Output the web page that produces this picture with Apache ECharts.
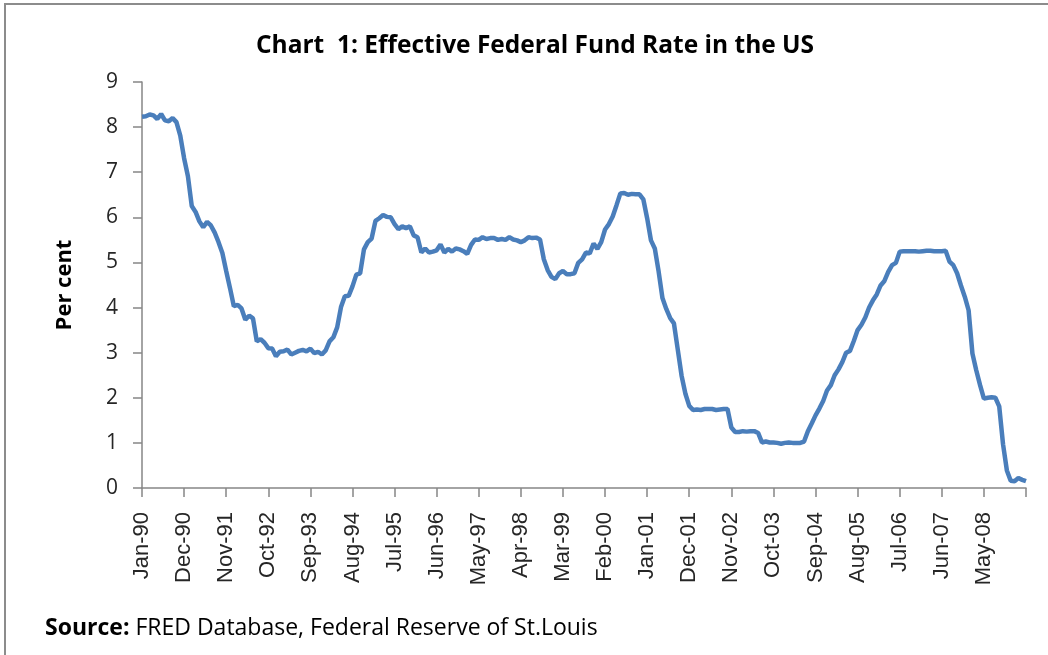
<!DOCTYPE html>
<html>
<head>
<meta charset="utf-8">
<title>Effective Federal Fund Rate in the US</title>
<script src="https://cdn.jsdelivr.net/npm/echarts@6/dist/echarts.min.js"></script>
<style>
    html, body { margin: 0; padding: 0; background: #fff; }
    #chart { width: 1048px; height: 655px; }
</style>
</head>
<body>
<div id="chart"></div>
<script>
// monthly effective federal funds rate, per cent, Jan-90 .. Apr-09
var rate1990 = [8.23, 8.24, 8.28, 8.26, 8.18, 8.29, 8.15, 8.13, 8.20, 8.11, 7.81, 7.31];
var rate1991 = [6.91, 6.25, 6.12, 5.91, 5.78, 5.90, 5.82, 5.66, 5.45, 5.21, 4.81, 4.43];
var rate1992 = [4.03, 4.06, 3.98, 3.73, 3.82, 3.76, 3.25, 3.30, 3.22, 3.10, 3.09, 2.92];
var rate1993 = [3.02, 3.03, 3.07, 2.96, 3.00, 3.04, 3.06, 3.03, 3.09, 2.99, 3.02, 2.96];
var rate1994 = [3.05, 3.25, 3.34, 3.56, 4.01, 4.25, 4.26, 4.47, 4.73, 4.76, 5.29, 5.45];
var rate1995 = [5.53, 5.92, 5.98, 6.05, 6.01, 6.00, 5.85, 5.74, 5.80, 5.76, 5.80, 5.60];
var rate1996 = [5.56, 5.22, 5.31, 5.22, 5.24, 5.27, 5.40, 5.22, 5.30, 5.24, 5.31, 5.29];
var rate1997 = [5.25, 5.19, 5.39, 5.51, 5.50, 5.56, 5.52, 5.54, 5.54, 5.50, 5.52, 5.50];
var rate1998 = [5.56, 5.51, 5.49, 5.45, 5.49, 5.56, 5.54, 5.55, 5.51, 5.07, 4.83, 4.68];
var rate1999 = [4.63, 4.76, 4.81, 4.74, 4.74, 4.76, 4.99, 5.07, 5.22, 5.20, 5.42, 5.30];
var rate2000 = [5.45, 5.73, 5.85, 6.02, 6.27, 6.53, 6.54, 6.50, 6.52, 6.51, 6.51, 6.40];
var rate2001 = [5.98, 5.49, 5.31, 4.80, 4.21, 3.97, 3.77, 3.65, 3.07, 2.49, 2.09, 1.82];
var rate2002 = [1.73, 1.74, 1.73, 1.75, 1.75, 1.75, 1.73, 1.74, 1.75, 1.75, 1.34, 1.24];
var rate2003 = [1.24, 1.26, 1.25, 1.26, 1.26, 1.22, 1.01, 1.03, 1.01, 1.01, 1.00, 0.98];
var rate2004 = [1.00, 1.01, 1.00, 1.00, 1.00, 1.03, 1.26, 1.43, 1.61, 1.76, 1.93, 2.16];
var rate2005 = [2.28, 2.50, 2.63, 2.79, 3.00, 3.04, 3.26, 3.50, 3.62, 3.78, 4.00, 4.16];
var rate2006 = [4.29, 4.49, 4.59, 4.79, 4.94, 4.99, 5.24, 5.25, 5.25, 5.25, 5.25, 5.24];
var rate2007 = [5.25, 5.26, 5.26, 5.25, 5.25, 5.25, 5.26, 5.02, 4.94, 4.76, 4.49, 4.24];
var rate2008 = [3.94, 2.98, 2.61, 2.28, 1.98, 2.00, 2.01, 2.00, 1.81, 0.97, 0.39, 0.16];
var rate2009 = [0.15, 0.22, 0.18, 0.15];

var monthNames = ['Jan', 'Feb', 'Mar', 'Apr', 'May', 'Jun', 'Jul', 'Aug', 'Sep', 'Oct', 'Nov', 'Dec'];
var yTicks = [0, 1, 2, 3, 4, 5, 6, 7, 8, 9];

var rates = [].concat(rate1990, rate1991, rate1992, rate1993, rate1994, rate1995,
    rate1996, rate1997, rate1998, rate1999, rate2000, rate2001, rate2002, rate2003,
    rate2004, rate2005, rate2006, rate2007, rate2008, rate2009);

// category labels like "Jan-90"
var months = [];
for (var i = 0; i < rates.length; i++) {
    var year = (1990 + Math.floor(i / 12)) % 100;
    months.push(monthNames[i % 12] + '-' + (year < 10 ? '0' + year : year));
}

var chart = echarts.init(document.getElementById('chart'));

var axisColor = '#868686';

var option = {
    animation: false,
    backgroundColor: '#fff',
    title: {
        text: 'Chart  1: Effective Federal Fund Rate in the US',
        left: 530,
        top: 29,
        textAlign: 'center',
        textStyle: {
            fontFamily: 'Open Sans',
            fontWeight: 'bold',
            fontSize: 24.5,
            color: '#000'
        }
    },
    grid: {
        left: 142,
        right: 22,
        top: 82,
        bottom: 167
    },
    xAxis: {
        type: 'category',
        data: months,
        boundaryGap: false,
        axisLine: { lineStyle: { color: axisColor, width: 1.5 } },
        axisTick: {
            interval: 10,
            length: 9,
            lineStyle: { color: axisColor, width: 1.5 }
        },
        axisLabel: {
            interval: function (index) {
                return index % 11 === 0 && index < rates.length - 1;
            },
            rotate: 90,
            margin: 24,
            fontFamily: 'Liberation Sans',
            fontSize: 22,
            color: '#262626'
        },
        splitLine: { show: false }
    },
    yAxis: {
        type: 'value',
        min: yTicks[0],
        max: yTicks[yTicks.length - 1],
        interval: 1,
        name: 'Per cent',
        nameLocation: 'middle',
        nameGap: 66,
        nameTextStyle: {
            fontFamily: 'Open Sans',
            fontWeight: 'bold',
            fontSize: 22,
            color: '#000'
        },
        axisLine: { show: true, lineStyle: { color: axisColor, width: 1.5 } },
        axisTick: { show: true, length: 9, lineStyle: { color: axisColor, width: 1.5 } },
        axisLabel: {
            margin: 24,
            fontFamily: 'Open Sans',
            fontSize: 21,
            color: '#262626'
        },
        splitLine: { show: false }
    },
    series: [{
        type: 'line',
        name: 'Effective Federal Funds Rate',
        data: rates,
        showSymbol: false,
        symbol: 'none',
        lineStyle: { color: '#4a7ebb', width: 4.5 },
        itemStyle: { color: '#4a7ebb' }
    }],
    graphic: [{
        type: 'rect',
        shape: { x: 5, y: 4, width: 1100, height: 1000 },
        style: { fill: null, stroke: '#8c8c8c', lineWidth: 2 },
        silent: true
    }, {
        type: 'text',
        x: 45,
        y: 628,
        style: {
            text: '{b|Source:} FRED Database, Federal Reserve of St.Louis',
            verticalAlign: 'middle',
            fontFamily: 'Open Sans',
            fontSize: 23,
            fill: '#000',
            rich: {
                b: { fontFamily: 'Open Sans', fontWeight: 'bold', fontSize: 23, fill: '#000' }
            }
        }
    }]
};

chart.setOption(option);
</script>
</body>
</html>
